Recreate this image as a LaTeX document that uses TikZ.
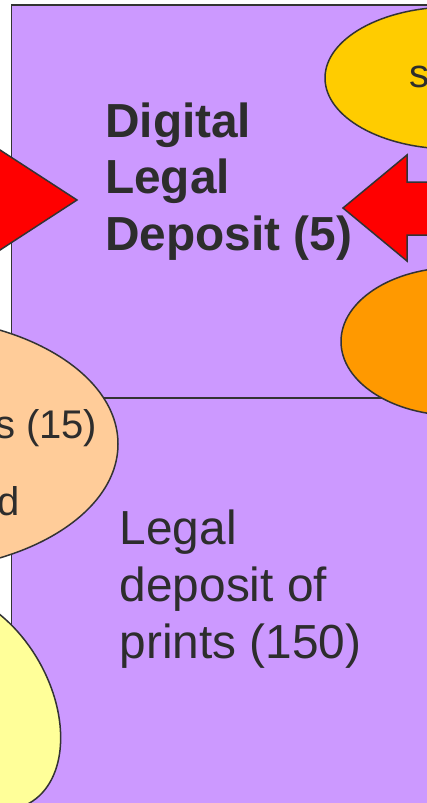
\documentclass[tikz,border=0pt]{standalone}
\usepackage{fontspec}
\setmainfont{Liberation Sans}
\usetikzlibrary{shapes.geometric}
\definecolor{purp}{HTML}{CC99FF}
\definecolor{edge}{HTML}{333333}
\definecolor{txt}{HTML}{2D2D2D}
\definecolor{gold}{HTML}{FFCC00}
\definecolor{orng}{HTML}{FF9900}
\definecolor{peach}{HTML}{FFCC99}
\definecolor{lyel}{HTML}{FFFF99}
\definecolor{redarrow}{HTML}{FF0000}
\begin{document}
\begin{tikzpicture}[x=1pt,y=-1pt,
  outl/.style={draw=edge, line width=1.5pt},
  box/.style={outl, fill=purp, rectangle, inner sep=0, anchor=north west},
  oval/.style={outl, ellipse, inner sep=0},
  blockarrow/.style={outl, fill=redarrow, line join=miter},
  bigtext/.style={text=txt, inner sep=0, font=\fontsize{47.8}{57}\selectfont},
  smalltext/.style={text=txt, inner sep=0, font=\fontsize{40}{48}\selectfont}]
\useasboundingbox (0,0) rectangle (427,803);
\clip (0,0) rectangle (427,803);
% the two boxes
\node[box, minimum width=440pt, minimum height=392.5pt] (boxTop) at (10.5,4) {};
\node[box, minimum width=440pt, minimum height=430pt] (boxBottom) at (10.5,397.5) {};
% ellipses
\node[oval, fill=gold, minimum width=254pt, minimum height=142pt] (ellGold) at (452,78) {};
\node[oval, fill=orng, minimum width=230pt, minimum height=148pt] (ellOrange) at (456,341.5) {};
\node[oval, fill=peach, minimum width=424pt, minimum height=254pt] (ellPeach) at (-94,444) {};
\node[oval, fill=lyel, minimum width=238pt, minimum height=158pt, rotate=-60] (ellLight) at (-30,700) {};
% block arrows
\draw[blockarrow] (77,200) -- (-40,124) -- (-40,276) -- cycle;
\draw[blockarrow] (343,208) -- (407,155) -- (407,182) -- (460,182) -- (460,235) -- (407,235) -- (407,261) -- cycle;
% texts
\node[bigtext, font=\bfseries\fontsize{47.8}{56.5}\selectfont, anchor=base west] (titleDigital) at (105,137)
  {\begin{tabular}[t]{@{}l@{}}Digital\\Legal\\Deposit (5)\end{tabular}};
\node[bigtext, anchor=base west] (titlePrints) at (119.5,544)
  {\begin{tabular}[t]{@{}l@{}}Legal\\deposit of\\prints (150)\end{tabular}};
\node[smalltext, anchor=base east] (peachA) at (97.5,438) {s (15)};
\node[smalltext, anchor=base east] (peachB) at (19.5,515) {d};
\node[smalltext, anchor=base west] (goldA) at (409,87) {s};
\end{tikzpicture}
\end{document}
